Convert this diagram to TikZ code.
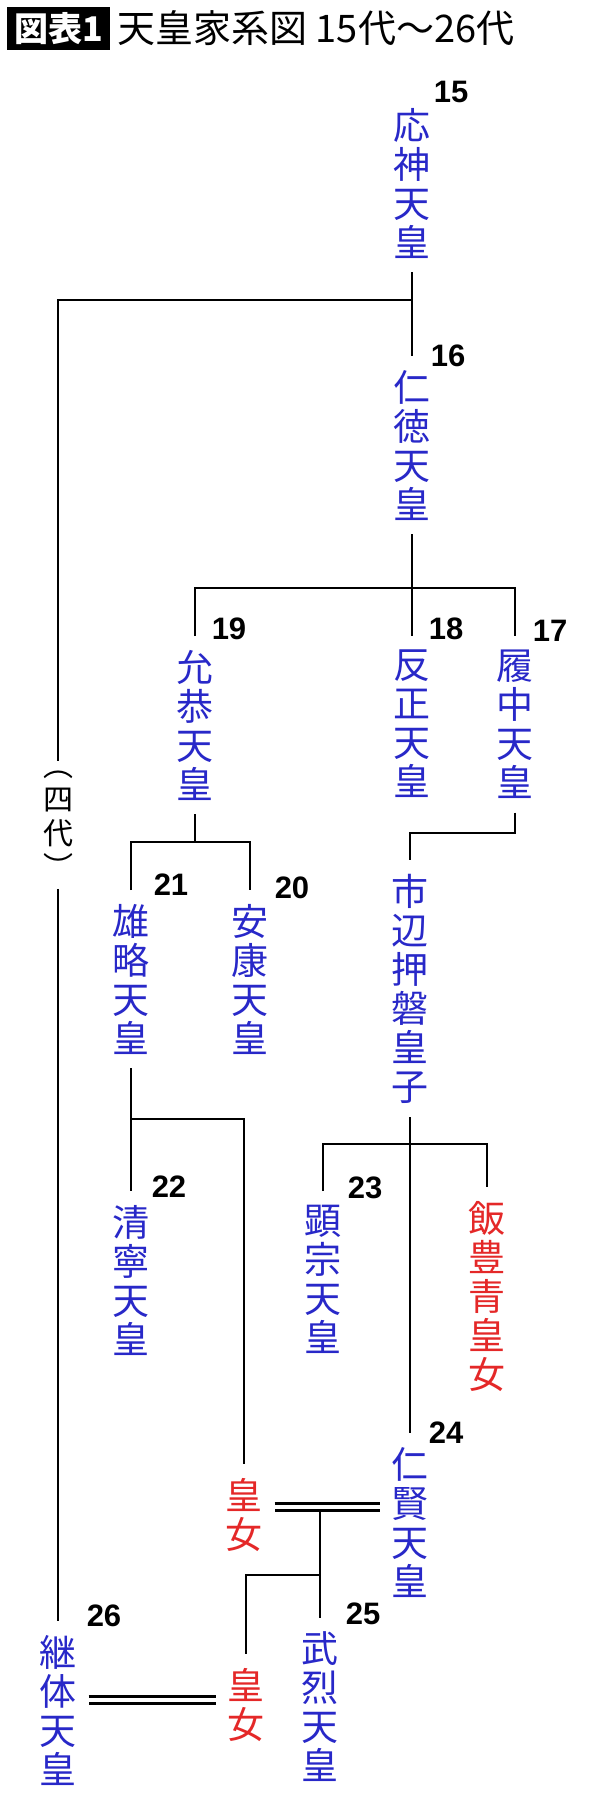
\documentclass[tikz,border=0pt]{standalone}
\usepackage{fontspec}
\newfontfamily\jpfont{Noto Sans CJK JP}
\newfontfamily\numfont{Liberation Sans}
\usetikzlibrary{positioning}
\definecolor{empblue}{RGB}{40,40,200}
\definecolor{hmred}{RGB}{228,40,40}
\tikzset{
    emp/.style={align=center, inner sep=0pt, outer ysep=14pt, outer xsep=12pt, anchor=north,
        text=empblue, font=\jpfont\fontsize{37}{39}\selectfont},
    princess/.style={emp, text=hmred},
    num/.style={inner sep=0pt, font=\numfont\bfseries\fontsize{31}{31}\selectfont},
    link/.style={line width=2.8pt, black},
    marry/.style={line width=2.4pt, double distance=4.4pt, black}
}

\begin{document}
\begin{tikzpicture}[x=1pt, y=-1pt]
\useasboundingbox (0,0) rectangle (600,1793);

% title
\node [fill=black, text=white, minimum width=103pt, minimum height=43pt, inner sep=0pt,
    font=\jpfont\bfseries\fontsize{34}{34}\selectfont] (tag) at (58.5,28.5) {図表1};
\node [anchor=west, inner sep=0pt, font=\jpfont\fontsize{38}{38}\selectfont,
    right=7pt of tag] (title) {天皇家系図 15代～26代};

% generations
\node [emp] (ojin) at (412,94) {応\\神\\天\\皇};
\node [num] (n15) at (451,92) {15};

\node [emp] (nintoku) at (412,356) {仁\\徳\\天\\皇};
\node [num] (n16) at (448,356) {16};

\node [emp] (ingyo) at (195,636) {允\\恭\\天\\皇};
\node [num] (n19) at (229,629) {19};
\node [emp] (hanzei) at (412,636) {反\\正\\天\\皇};
\node [num] (n18) at (446,629) {18};
\node [emp] (richu) at (515,636) {履\\中\\天\\皇};
\node [num] (n17) at (550,631) {17};

\node [emp] (yuryaku) at (131,890) {雄\\略\\天\\皇};
\node [num] (n21) at (171,885) {21};
\node [emp] (anko) at (250,890) {安\\康\\天\\皇};
\node [num] (n20) at (292,888) {20};
\node [emp] (ichinobe) at (410,860) {市\\辺\\押\\磐\\皇\\子};

\node [emp] (seinei) at (131,1191) {清\\寧\\天\\皇};
\node [num] (n22) at (169,1187) {22};
\node [emp] (kenzo) at (323,1191) {顕\\宗\\天\\皇};
\node [num] (n23) at (365,1188) {23};
\node [princess] (iitoyo) at (487,1187) {飯\\豊\\青\\皇\\女};

\node [princess] (kojoA) at (244,1464) {皇\\女};
\node [emp] (ninken) at (410,1433) {仁\\賢\\天\\皇};
\node [num] (n24) at (446,1433) {24};

\node [emp] (keitai) at (58,1621) {継\\体\\天\\皇};
\node [num] (n26) at (104,1616) {26};
\node [princess] (kojoB) at (246,1654) {皇\\女};
\node [emp] (buretsu) at (320,1618) {武\\烈\\天\\皇};
\node [num] (n25) at (363,1614) {25};

\node [align=center, inner sep=0pt, outer ysep=10pt, text=black,
    font=\jpfont\fontsize{30}{34}\selectfont] (yondai) at (58,825) {︵\\四\\代\\︶};

% junctions
\coordinate (jOjin) at (412,300);
\coordinate (jNintoku) at (412,588);
\coordinate (jIngyo) at (195,842);
\coordinate (jRichu) at (515,833);
\coordinate (jYuryaku) at (131,1119);
\coordinate (jIchinobe) at (410,1144);
\coordinate (jNinken) at (320,1507);
\coordinate (jBuretsu) at (320,1575);
\coordinate (jKeitai) at (150,1700);

% connectors
\draw [link] (ojin) -- (nintoku);
\draw [link] (jOjin) -| (yondai.north);
\draw [link] (yondai.south) -- (keitai.north);
\draw [link] (nintoku) -- (hanzei);
\draw [link] (ingyo) |- (jNintoku) -| (richu);
\draw [link] (ingyo) -- (jIngyo);
\draw [link] (yuryaku) |- (jIngyo) -| (anko);
\draw [link] (richu) -- (jRichu) -| (ichinobe);
\draw [link] (yuryaku) -- (seinei);
\draw [link] (jYuryaku) -| (kojoA);
\draw [link] (ichinobe) -- (ninken);
\draw [link] (kenzo) |- (jIchinobe) -| (iitoyo);
\draw [marry] (kojoA.east |- jNinken) -- (ninken.west |- jNinken);
\draw [link] ([yshift=-3.6pt]jNinken) -- (buretsu);
\draw [link] (jBuretsu) -| (kojoB);
\draw [marry] (keitai.east |- jKeitai) -- (kojoB.west |- jKeitai);

\end{tikzpicture}
\end{document}
